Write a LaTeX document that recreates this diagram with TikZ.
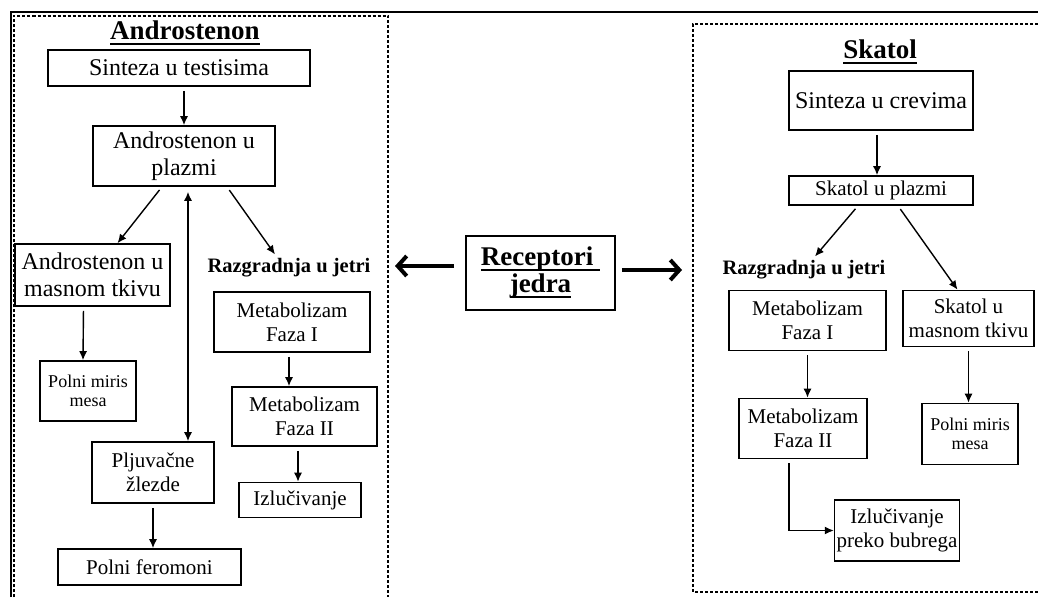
\documentclass[tikz,border=0pt]{standalone}
\usepackage{fontspec}
\setmainfont{Liberation Serif}
\usetikzlibrary{arrows.meta}
\newcommand\thul[1]{\leavevmode\setbox0=\hbox{#1}\rlap{\rule[-5pt]{\wd0}{2pt}}\box0}

\begin{document}
\begin{tikzpicture}[x=1pt,y=-1pt,
  box/.style={draw,line width=1.6pt,align=center,inner sep=2pt,font=\fontsize{21}{24}\selectfont},
  bigbox/.style={box,font=\fontsize{24}{27}\selectfont},
  smallbox/.style={box,font=\fontsize{18}{19}\selectfont},
  headtxt/.style={font=\fontsize{27}{28}\selectfont\bfseries,inner sep=0pt},
  subtxt/.style={font=\fontsize{20.5}{22}\selectfont\bfseries,inner sep=4pt},
  arr/.style={line width=1.4pt,-{Latex[length=9pt,width=8pt]},shorten <=4pt},
  bigarr/.style={line width=4pt,-{Straight Barb[length=9pt,width=20pt]}},
  dashframe/.style={dash pattern=on 3pt off 2pt,line width=2pt}]
  \useasboundingbox (0,0) rectangle (1038,597);
  \draw[line width=2pt] (10.5,597) -- (10.5,12) -- (1038,12);
  \draw[dashframe] (14,597) -- (14,15.5) -- (388,15.5) -- (388,597);
  \draw[dashframe] (1038,24) -- (693,24) -- (693,592) -- (1038,592);

  \node[headtxt] (titA) at (185,33) {\thul{Androstenon}};
  \node[bigbox,minimum width=262pt,minimum height=36pt] (sintA) at (179,68) {Sinteza u testisima};
  \node[bigbox,minimum width=182pt,minimum height=60pt] (plazA) at (184,156) {Androstenon u\\plazmi};
  \node[bigbox,minimum width=155pt,minimum height=62pt] (masA) at (92.5,275) {Androstenon u\\masnom tkivu};
  \node[smallbox,minimum width=96pt,minimum height=60pt] (mirA) at (88,391) {Polni miris\\mesa};
  \node[subtxt] (razA) at (289,268) {Razgradnja u jetri};
  \node[box,minimum width=156pt,minimum height=60pt] (met1A) at (292,322) {Metabolizam\\Faza I};
  \node[box,minimum width=145pt,minimum height=59pt] (met2A) at (304.5,416.5) {Metabolizam\\Faza II};
  \node[box,minimum width=122pt,minimum height=35pt] (izlA) at (300,500) {Izlučivanje};
  \node[box,minimum width=122pt,minimum height=61pt] (pljA) at (153,472.5) {Pljuvačne\\žlezde};
  \node[box,minimum width=183pt,minimum height=36pt] (ferA) at (149.5,567) {Polni feromoni};

  \draw[arr] (plazA.north |- sintA.south) -- (plazA.north);
  \draw[arr] ([xshift=-22pt]plazA.south) -- ([xshift=25pt]masA.north);
  \draw[arr] ([xshift=43pt]plazA.south) -- ([xshift=-14pt]razA.north);
  \draw[arr,{Latex[length=9pt,width=8pt]}-{Latex[length=9pt,width=8pt]},shorten <=5pt] ([xshift=4pt]plazA.south) -- ([xshift=35pt]pljA.north);
  \draw[arr] ([xshift=-9pt]masA.south) -- ([xshift=-5pt]mirA.north);
  \draw[arr] ([xshift=-3pt]met1A.south) -- ([xshift=-15.5pt]met2A.north);
  \draw[arr] ([xshift=-6.5pt]met2A.south) -- ([xshift=-2pt]izlA.north);
  \draw[arr] (pljA.south) -- (pljA.south |- ferA.north);

  \node[box,font=\fontsize{27}{27}\selectfont\bfseries,minimum width=149pt,minimum height=74pt] (rec) at (540.5,273) {\thul{Receptori~}\\\thul{jedra}};
  \coordinate (toA) at (395,266);
  \coordinate (toS) at (682,270);
  \draw[bigarr] ([shift={(-11pt,7pt)}]rec.west) -- (toA);
  \draw[bigarr] ([shift={(6pt,3pt)}]rec.east) -- (toS);

  \node[headtxt] (titS) at (880,52) {\thul{Skatol}};
  \node[bigbox,minimum width=184pt,minimum height=59pt] (sintS) at (881,100.5) {Sinteza u crevima};
  \node[box,minimum width=184pt,minimum height=29pt] (plazS) at (881,190.5) {Skatol u plazmi};
  \node[subtxt] (razS) at (804,270) {Razgradnja u jetri};
  \node[box,minimum width=157pt,minimum height=60pt] (met1S) at (807.5,320.5) {Metabolizam\\Faza I};
  \node[box,minimum width=128pt,minimum height=60pt] (met2S) at (803,428.5) {Metabolizam\\Faza II};
  \node[box,minimum width=122pt,minimum height=61pt] (izlS) at (897,530.5) {Izlučivanje\\preko bubrega};
  \node[box,minimum width=131pt,minimum height=56pt] (masS) at (968.5,318.5) {Skatol u\\masnom tkivu};
  \node[smallbox,minimum width=96pt,minimum height=61pt] (mirS) at (970,434) {Polni miris\\mesa};

  \draw[arr] ([xshift=-4pt]sintS.south) -- ([xshift=-4pt]plazS.north);
  \draw[arr] ([xshift=-23pt]plazS.south) -- ([xshift=11pt]razS.north);
  \draw[arr] ([xshift=17pt]plazS.south) -- ([xshift=-11pt]masS.north);
  \draw[arr] (met1S.south) -- (met1S.south |- met2S.north);
  \draw[arr] ([xshift=-14pt]met2S.south) |- (izlS.west);
  \draw[arr] (masS.south) -- (masS.south |- mirS.north);
\end{tikzpicture}
\end{document}
